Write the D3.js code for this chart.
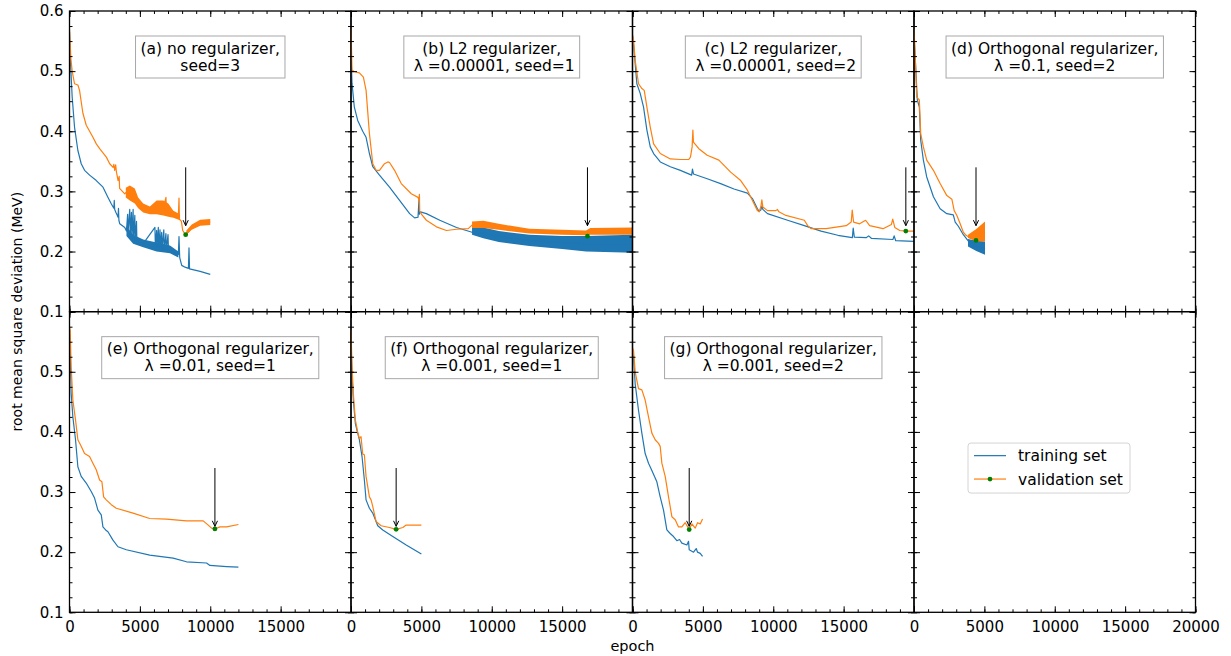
<!DOCTYPE html>
<html><head><meta charset="utf-8">
<script src="https://cdn.jsdelivr.net/npm/d3@7"></script>
<style>body{margin:0;background:#fff}svg{display:block;font-family:"DejaVu Sans",sans-serif}</style>
</head><body><svg id="chart" width="1231" height="656"></svg>
<script>
// ---------------- data ----------------
const epochTicks = [0, 5000, 10000, 15000, 20000];
const rmsdTicks = [0.1, 0.2, 0.3, 0.4, 0.5, 0.6];
const seriesNames = ["training set", "validation set"];
const xTitle = "epoch";
const yTitle = "root mean square deviation (MeV)";
const panelLabels = [
  ["(a) no regularizer,", "seed=3"],
  ["(b) L2 regularizer,", " λ =0.00001, seed=1"],
  ["(c) L2 regularizer,", " λ =0.00001, seed=2"],
  ["(d) Orthogonal regularizer,", "λ =0.1, seed=2"],
  ["(e) Orthogonal regularizer,", "λ =0.01, seed=1"],
  ["(f) Orthogonal regularizer,", "λ =0.001, seed=1"],
  ["(g) Orthogonal regularizer,", "λ =0.001, seed=2"]
];
// arrow from / to (RMSD values)
const arrowFrom = 0.34, arrowTo = 0.243;

// (a)
const trainA = [[0,0.565],[60,0.52],[120,0.49],[190,0.457],[357,0.407],[595,0.368],[833,0.346],[1071,0.335],[1428,0.327],[1904,0.318],[2380,0.307],[2737,0.29],[2975,0.279],[3150,0.272],[3180,0.285],[3210,0.27],[3300,0.265],[3400,0.26],[3451,0.257],[3480,0.272],[3510,0.252],[3570,0.246],[3927,0.24],[4046,0.234],[4130,0.262],[4160,0.232],[4280,0.27],[4310,0.226],[4400,0.265],[4430,0.222],[4520,0.27],[4550,0.22],[4640,0.26],[4670,0.218],[4760,0.25],[4790,0.216],[5236,0.213],[6070,0.24],[6100,0.208],[6190,0.235],[6220,0.207],[6310,0.24],[6340,0.206],[6430,0.236],[6460,0.205],[6550,0.232],[6580,0.204],[6700,0.236],[6730,0.203],[6850,0.23],[6880,0.203],[7000,0.228],[7030,0.202],[7735,0.195],[7780,0.225],[7830,0.19],[7973,0.177],[8211,0.174],[8449,0.172],[8490,0.206],[8530,0.171],[9282,0.167],[10000,0.162]];
const valA = [[0,0.57],[100,0.52],[190,0.5],[357,0.479],[595,0.477],[714,0.468],[952,0.43],[1190,0.41],[1666,0.39],[1904,0.379],[2142,0.371],[2618,0.357],[2856,0.346],[3094,0.34],[3150,0.345],[3213,0.335],[3280,0.344],[3330,0.333],[3451,0.318],[3530,0.325],[3560,0.305],[3927,0.296],[4000,0.298],[4284,0.297],[4640,0.292],[4880,0.28],[5236,0.272],[5712,0.268],[6188,0.272],[6664,0.272],[6854,0.29],[6880,0.27],[7021,0.268],[7378,0.262],[7730,0.256],[7780,0.289],[7810,0.254],[7950,0.25],[8044,0.235],[8211,0.229],[8449,0.232],[8687,0.24],[9044,0.247],[9400,0.25],[10000,0.249]];
const trainBandA = [[4046,0.226,0.242],[4522,0.213,0.228],[5236,0.207,0.22],[6188,0.2,0.215],[7140,0.197,0.21],[7735,0.19,0.2]];
const valBandA = [[4000,0.29,0.306],[4284,0.285,0.31],[4640,0.28,0.305],[4880,0.272,0.29],[5236,0.265,0.28],[5712,0.262,0.275],[6188,0.262,0.285],[6664,0.26,0.285],[7021,0.258,0.28],[7378,0.256,0.268],[7854,0.252,0.262]];
const valBandA2 = [[8300,0.228,0.235],[8687,0.236,0.245],[9282,0.243,0.253],[10000,0.244,0.254]];
const bestA = [8255, 0.228];

// (b)
const trainB = [[0,0.53],[71,0.48],[238,0.44],[476,0.418],[833,0.4],[1071,0.39],[1309,0.363],[1547,0.341],[2023,0.327],[2737,0.307],[3451,0.285],[4165,0.263],[4522,0.256],[4760,0.257],[4830,0.285],[4860,0.262],[4927,0.266],[5355,0.263],[6307,0.252],[7497,0.24],[8600,0.232],[9400,0.231],[10500,0.225],[12670,0.218],[15000,0.215],[16700,0.213],[20000,0.213]];
const valB = [[0,0.571],[71,0.502],[238,0.499],[595,0.497],[880,0.49],[1071,0.468],[1309,0.396],[1547,0.346],[1785,0.335],[2023,0.335],[2380,0.346],[2620,0.349],[2737,0.348],[3094,0.335],[3570,0.313],[4284,0.296],[4760,0.29],[4830,0.285],[4860,0.295],[4880,0.268],[5000,0.262],[5355,0.252],[6069,0.241],[6783,0.235],[7497,0.237],[8330,0.238],[8600,0.244],[9400,0.245],[10500,0.241],[12670,0.234],[15000,0.232],[16700,0.231],[20000,0.234]];
const trainBandB = [[8600,0.228,0.244],[9400,0.222,0.24],[10500,0.216,0.234],[12670,0.209,0.228],[15000,0.204,0.226],[16700,0.2,0.226],[20000,0.198,0.228]];
const valBandB = [[8600,0.239,0.25],[9400,0.239,0.251],[10500,0.236,0.246],[12670,0.23,0.238],[15000,0.228,0.236],[16700,0.227,0.235],[17000,0.228,0.239],[20000,0.228,0.24]];
const bestB = [16800, 0.2256];

// (c)
const trainC = [[0,0.56],[71,0.546],[309,0.479],[547,0.463],[785,0.44],[1023,0.402],[1261,0.374],[1500,0.363],[1975,0.349],[2689,0.341],[3403,0.335],[4200,0.327],[4260,0.337],[4330,0.329],[5307,0.321],[6259,0.313],[7211,0.304],[8163,0.297],[8520,0.288],[8877,0.271],[8996,0.267],[9115,0.269],[9200,0.276],[9260,0.27],[9591,0.263],[11019,0.252],[12208,0.243],[13398,0.234],[14588,0.227],[15620,0.223],[15680,0.239],[15760,0.224],[16600,0.223],[16777,0.226],[16968,0.222],[18500,0.22],[18590,0.226],[18700,0.218],[20000,0.217]];
const valC = [[0,0.56],[71,0.552],[190,0.518],[428,0.479],[666,0.471],[833,0.468],[1023,0.44],[1261,0.407],[1500,0.379],[1975,0.363],[2689,0.354],[3403,0.353],[3998,0.353],[4117,0.357],[4236,0.374],[4290,0.402],[4330,0.382],[4712,0.371],[5307,0.36],[6140,0.352],[6259,0.349],[6973,0.332],[7687,0.318],[8163,0.302],[8520,0.285],[8877,0.268],[8996,0.266],[9115,0.274],[9190,0.286],[9260,0.274],[9591,0.268],[10186,0.268],[10300,0.27],[10400,0.266],[10900,0.26],[12208,0.252],[12446,0.243],[12684,0.238],[13755,0.238],[15183,0.243],[15540,0.249],[15611,0.269],[15706,0.249],[16135,0.246],[16563,0.252],[16849,0.243],[17801,0.238],[18396,0.245],[18490,0.254],[18634,0.24],[18991,0.235],[19420,0.234],[20000,0.234]];
const bestC = [19420, 0.234];

// (d)
const trainD = [[0,0.56],[119,0.507],[238,0.452],[380,0.44],[476,0.385],[666,0.352],[904,0.324],[1380,0.291],[1856,0.271],[2332,0.263],[2792,0.261],[2927,0.249],[3150,0.242],[3505,0.228],[3837,0.218],[4425,0.209],[5045,0.204]];
const valD = [[0,0.57],[48,0.546],[119,0.507],[190,0.457],[309,0.454],[380,0.452],[476,0.396],[666,0.374],[904,0.352],[1380,0.335],[1856,0.313],[2332,0.293],[2689,0.287],[2856,0.268],[3046,0.26],[3268,0.247],[3505,0.232],[3700,0.227],[3837,0.225],[4425,0.227],[5045,0.233]];
const trainBandD = [[3837,0.2085,0.2207],[4425,0.201,0.218],[5045,0.1947,0.2168]];
const valBandD = [[3837,0.2224,0.228],[4425,0.2168,0.2374],[5045,0.2168,0.25]];
const bestD = [4405, 0.2185];

// (e)
const trainE = [[0,0.55],[48,0.536],[119,0.464],[238,0.425],[428,0.387],[594,0.342],[831,0.326],[1188,0.315],[1544,0.301],[1781,0.29],[2019,0.27],[2256,0.262],[2375,0.242],[2565,0.237],[2731,0.234],[3088,0.22],[3444,0.209],[4038,0.204],[5700,0.195],[7363,0.19],[8313,0.184],[9738,0.182],[9975,0.178],[11163,0.176],[12000,0.175]];
const valE = [[0,0.575],[48,0.569],[119,0.508],[238,0.453],[428,0.42],[594,0.387],[831,0.376],[1069,0.364],[1425,0.359],[1663,0.348],[1900,0.337],[2138,0.32],[2304,0.317],[2423,0.292],[2613,0.287],[2969,0.279],[3325,0.273],[4513,0.265],[5700,0.256],[6888,0.255],[8313,0.252],[9500,0.252],[9856,0.245],[10094,0.24],[10331,0.2386],[10688,0.242],[11163,0.242],[12000,0.246]];
const bestE = [10331, 0.2386];

// (f)
const trainF = [[0,0.55],[71,0.497],[166,0.453],[309,0.414],[475,0.398],[594,0.387],[784,0.359],[950,0.32],[1069,0.287],[1307,0.273],[1544,0.265],[1901,0.244],[2257,0.237],[2970,0.226],[3920,0.212],[5000,0.197]];
const valF = [[0,0.57],[71,0.509],[166,0.464],[309,0.42],[475,0.4],[594,0.389],[713,0.392],[832,0.363],[950,0.362],[1069,0.326],[1188,0.309],[1307,0.292],[1426,0.287],[1544,0.276],[1782,0.251],[2138,0.244],[2732,0.241],[3208,0.238],[3683,0.241],[3920,0.245],[5000,0.245]];
const bestF = [3208, 0.238];

// (g)
const trainG = [[0,0.53],[71,0.525],[190,0.48],[427,0.436],[664,0.398],[900,0.364],[1138,0.348],[1375,0.336],[1730,0.317],[1967,0.292],[2204,0.27],[2441,0.237],[2678,0.231],[2915,0.226],[3152,0.219],[3342,0.221],[3508,0.215],[3863,0.212],[3982,0.218],[4029,0.204],[4337,0.2],[4527,0.206],[4622,0.2],[4811,0.198],[4977,0.193]];
const valG = [[0,0.54],[71,0.536],[190,0.5],[427,0.472],[664,0.47],[900,0.453],[1138,0.425],[1375,0.398],[1612,0.387],[1849,0.381],[1967,0.376],[2086,0.348],[2323,0.326],[2560,0.292],[2797,0.259],[3034,0.254],[3271,0.242],[3508,0.242],[3745,0.249],[4029,0.238],[4219,0.247],[4456,0.24],[4622,0.249],[4811,0.247],[4977,0.255]];
const bestG = [4029, 0.2375];

// ---------------- build ----------------
const panels = [
  {train: trainA, val: valA, trainBands: [trainBandA], valBands: [valBandA, valBandA2], best: bestA},
  {train: trainB, val: valB, trainBands: [trainBandB], valBands: [valBandB], best: bestB},
  {train: trainC, val: valC, trainBands: [], valBands: [], best: bestC},
  {train: trainD, val: valD, trainBands: [trainBandD], valBands: [valBandD], best: bestD},
  {train: trainE, val: valE, trainBands: [], valBands: [], best: bestE},
  {train: trainF, val: valF, trainBands: [], valBands: [], best: bestF},
  {train: trainG, val: valG, trainBands: [], valBands: [], best: bestG},
  null
];

const C_TRAIN = "#1f77b4", C_VAL = "#ff7f0e", C_BEST = "#008000";
const svg = d3.select("#chart");
const L = 69.5, R = 1195.5, T = 11, B = 612.3;
const pw = (R - L) / 4, ph = (B - T) / 2;
const x = d3.scaleLinear().domain([0, 20000]).range([0, pw]);
const y = d3.scaleLinear().domain([0.1, 0.6]).range([ph, 0]);
const lineGen = d3.line().x(d => x(d[0])).y(d => y(d[1]));
const areaGen = d3.area().x(d => x(d[0])).y0(d => y(d[1])).y1(d => y(d[2]));
const minorX = d3.range(0, 20001, 1000);
const minorY = d3.range(0, 21).map(i => 0.1 + i * 0.025);

function styleAxis(g) {
  g.select(".domain").remove();
  g.selectAll("line").attr("stroke", "#000").attr("stroke-width", 1);
  g.selectAll("text").attr("fill", "#000").style("font-family", "DejaVu Sans").style("font-size", "15px");
  g.attr("font-family", null).attr("font-size", null);
}

panels.forEach((p, i) => {
  const col = i % 4, row = Math.floor(i / 4);
  const g = svg.append("g").attr("transform", `translate(${L + col * pw},${T + row * ph})`);
  const cid = "clip" + i;
  g.append("clipPath").attr("id", cid).append("rect").attr("width", pw).attr("height", ph);
  const plot = g.append("g").attr("clip-path", `url(#${cid})`);

  if (p) {
    p.trainBands.forEach(b => plot.append("path").attr("d", areaGen(b)).attr("fill", C_TRAIN));
    plot.append("path").attr("d", lineGen(p.train)).attr("fill", "none").attr("stroke", C_TRAIN).attr("stroke-width", 1.2).attr("stroke-linejoin", "round");
    p.valBands.forEach(b => plot.append("path").attr("d", areaGen(b)).attr("fill", C_VAL));
    plot.append("path").attr("d", lineGen(p.val)).attr("fill", "none").attr("stroke", C_VAL).attr("stroke-width", 1.2).attr("stroke-linejoin", "round");
    plot.append("circle").attr("cx", x(p.best[0])).attr("cy", y(p.best[1])).attr("r", 2.4).attr("fill", C_BEST);
    // arrow
    const ax = x(p.best[0]), y1 = y(arrowFrom), y2 = y(arrowTo);
    g.append("line").attr("x1", ax).attr("x2", ax).attr("y1", y1).attr("y2", y2).attr("stroke", "#000").attr("stroke-width", 1);
    g.append("path").attr("d", `M${ax - 2.6},${y2 - 5.5}L${ax},${y2}L${ax + 2.6},${y2 - 5.5}`).attr("fill", "none").attr("stroke", "#000").attr("stroke-width", 1);
    // label box
    const lab = panelLabels[i];
    const bg = g.append("g");
    const rect = bg.append("rect").attr("fill", "#fff").attr("stroke", "#a8a8a8").attr("stroke-width", 1);
    const tx = bg.append("text").attr("text-anchor", "middle").style("font-size", "15.5px").attr("fill", "#000");
    lab.forEach((s, k) => tx.append("tspan").attr("x", pw / 2).attr("y", 42.6 + k * 17).text(s));
    const bb = tx.node().getBBox();
    rect.attr("x", pw / 2 - bb.width / 2 - 5).attr("y", 25).attr("width", bb.width + 10).attr("height", 42);
  } else {
    // legend
    const lg = g.append("g");
    lg.append("rect").attr("x", 54).attr("y", 131.4).attr("width", 162).attr("height", 50).attr("rx", 3)
      .attr("fill", "#fff").attr("stroke", "#d4d4d4").attr("stroke-width", 1);
    const ly = [144, 167.4];
    lg.append("line").attr("x1", 60).attr("x2", 92).attr("y1", ly[0]).attr("y2", ly[0]).attr("stroke", C_TRAIN).attr("stroke-width", 1.2);
    lg.append("line").attr("x1", 60).attr("x2", 92).attr("y1", ly[1]).attr("y2", ly[1]).attr("stroke", C_VAL).attr("stroke-width", 1.2);
    lg.append("circle").attr("cx", 76).attr("cy", ly[1]).attr("r", 2.4).attr("fill", C_BEST);
    seriesNames.forEach((s, k) => lg.append("text").attr("x", 104).attr("y", ly[k] + 5.5).style("font-size", "15.5px").attr("fill", "#000").text(s));
  }

  // axes: major & minor ticks on four sides, pointing inward
  const xFmt = d => (row === 1 && (col === 3 || d < 20000)) ? d3.format("d")(d) : "";
  const yFmt = d => (col === 0 && (row === 0 || d < 0.6)) ? d3.format(".1f")(d) : "";
  g.append("g").attr("transform", `translate(0,${ph})`).call(d3.axisBottom(x).tickValues(epochTicks).tickSize(-6).tickPadding(9.5).tickFormat(xFmt)).call(styleAxis);
  g.append("g").attr("transform", `translate(0,${ph})`).call(d3.axisBottom(x).tickValues(minorX).tickSize(-3).tickFormat("")).call(styleAxis);
  g.append("g").call(d3.axisTop(x).tickValues(epochTicks).tickSize(-6).tickFormat("")).call(styleAxis);
  g.append("g").call(d3.axisTop(x).tickValues(minorX).tickSize(-3).tickFormat("")).call(styleAxis);
  g.append("g").call(d3.axisLeft(y).tickValues(rmsdTicks).tickSize(-6).tickPadding(6).tickFormat(yFmt)).call(styleAxis);
  g.append("g").call(d3.axisLeft(y).tickValues(minorY).tickSize(-3).tickFormat("")).call(styleAxis);
  g.append("g").attr("transform", `translate(${pw},0)`).call(d3.axisRight(y).tickValues(rmsdTicks).tickSize(-6).tickFormat("")).call(styleAxis);
  g.append("g").attr("transform", `translate(${pw},0)`).call(d3.axisRight(y).tickValues(minorY).tickSize(-3).tickFormat("")).call(styleAxis);
  g.append("rect").attr("width", pw).attr("height", ph).attr("fill", "none").attr("stroke", "#000").attr("stroke-width", 1.3);
});

svg.append("text").attr("x", (L + R) / 2).attr("y", 651).attr("text-anchor", "middle").style("font-size", "14.5px").attr("fill", "#000").text(xTitle);
svg.append("text").attr("transform", `translate(17,${(T + B) / 2}) rotate(-90)`).attr("text-anchor", "middle").attr("dominant-baseline", "central").style("font-size", "14px").attr("fill", "#000").text(yTitle);
</script></body></html>
